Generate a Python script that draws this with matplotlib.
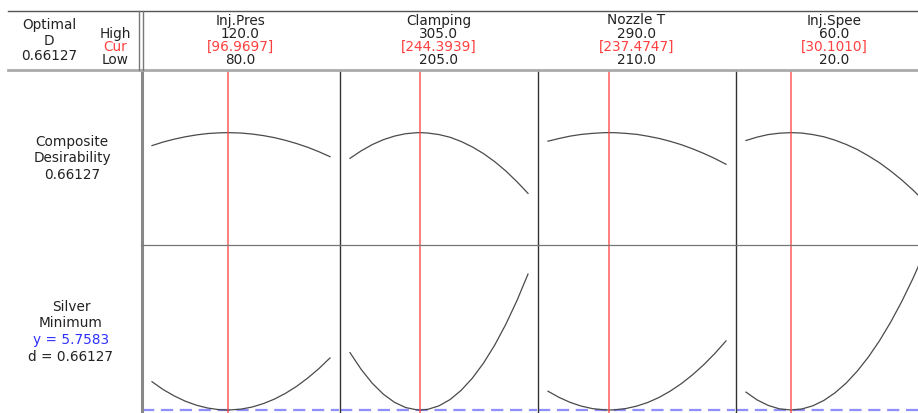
import numpy as np
import matplotlib
matplotlib.use('Agg')
import matplotlib.pyplot as plt
from matplotlib.lines import Line2D

W, H = 918, 414

factors = ['Inj.Pres', 'Clamping', 'Nozzle T', 'Inj.Spee']
high = [120.0, 305.0, 290.0, 60.0]
low = [80.0, 205.0, 210.0, 20.0]
cur = [96.9697, 244.3939, 237.4747, 30.1010]

D_opt = 0.66127
y_opt = 5.7583

# factor value, composite d, predicted Silver
pres_x = [80, 82.5, 85, 87.5, 90, 92.5, 95, 96.9697, 97.5, 100,
          102.5, 105, 107.5, 110, 112.5, 115, 117.5, 120]
pres_d = [.585, .606, .623, .637, .648, .656, .660, .66127, .661, .659,
          .653, .644, .632, .616, .597, .575, .549, .520]
pres_y = [6.041, 5.963, 5.899, 5.846, 5.806, 5.778, 5.762, 5.7583, 5.759, 5.767,
          5.788, 5.822, 5.867, 5.925, 5.995, 6.078, 6.172, 6.279]

clamp_x = [205, 211.25, 217.5, 223.75, 230, 236.25, 242.5, 244.3939, 248.75, 255,
           261.25, 267.5, 273.75, 280, 286.25, 292.5, 298.75, 305]
clamp_d = [.510, .554, .591, .620, .641, .655, .661, .66127, .659, .650,
           .634, .609, .577, .538, .491, .436, .373, .304]
clamp_y = [6.332, 6.165, 6.026, 5.916, 5.835, 5.783, 5.760, 5.7583, 5.765, 5.800,
           5.863, 5.956, 6.077, 6.227, 6.406, 6.614, 6.851, 7.117]

noz_x = [210, 215, 220, 225, 230, 235, 237.4747, 240, 245,
         250, 255, 260, 265, 270, 275, 280, 285, 290]
noz_d = [.611, .627, .641, .651, .657, .661, .66127, .661, .657,
         .651, .640, .627, .610, .590, .566, .539, .509, .475]
noz_y = [5.946, 5.884, 5.834, 5.797, 5.772, 5.760, 5.7583, 5.760, 5.773,
         5.798, 5.835, 5.885, 5.948, 6.023, 6.111, 6.211, 6.324, 6.449]

spee_x = [20, 22.5, 25, 27.5, 30.101, 32.5, 35, 37.5, 40,
          42.5, 45, 47.5, 50, 52.5, 55, 57.5, 60]
spee_d = [.615, .635, .650, .658, .66127, .659, .650, .637, .617,
          .592, .562, .525, .484, .436, .383, .324, .260]
spee_y = [5.937, 5.859, 5.804, 5.770, 5.7583, 5.768, 5.800, 5.854, 5.930,
          6.027, 6.147, 6.288, 6.451, 6.636, 6.843, 7.072, 7.323]

curves_x = [pres_x, clamp_x, noz_x, spee_x]
curves_d = [pres_d, clamp_d, noz_d, spee_d]
curves_y = [pres_y, clamp_y, noz_y, spee_y]

plt.rcParams['font.family'] = ['DejaVu Sans']
fig = plt.figure(figsize=(W / 100, H / 100), dpi=100)


def fx(p):
    return p / W


def fy(p):
    return 1 - p / H


def fline(x0, y0, x1, y1, **kw):
    fig.add_artist(Line2D([fx(x0), fx(x1)], [fy(y0), fy(y1)],
                          transform=fig.transFigure, zorder=5, **kw))


red = '#ff4040'
ink = '#222222'
fs = 9.8

# header frame
fline(8, 12, 918, 12, color='#555555', lw=1)
fline(8, 71, 918, 71, color='#aaaaaa', lw=2)
fline(139, 12, 139, 71, color='#777777', lw=1)
fline(143, 12, 143, 71, color='#777777', lw=1)
# row divider
fline(142, 246, 918, 246, color='#777777', lw=0.9)

fig.text(fx(49), fy(25), 'Optimal', ha='center', va='center', fontsize=fs, color=ink)
fig.text(fx(49), fy(41), 'D', ha='center', va='center', fontsize=fs, color=ink)
fig.text(fx(49), fy(56), '0.66127', ha='center', va='center', fontsize=fs, color=ink)
fig.text(fx(115), fy(34), 'High', ha='center', va='center', fontsize=fs, color=ink)
fig.text(fx(115), fy(47), 'Cur', ha='center', va='center', fontsize=fs, color=red)
fig.text(fx(115), fy(60), 'Low', ha='center', va='center', fontsize=fs, color=ink)

# left row labels
for yy, s in zip([142, 158, 175], ['Composite', 'Desirability', '0.66127']):
    fig.text(fx(72), fy(yy), s, ha='center', va='center', fontsize=fs, color=ink)
for yy, s, c in zip([307, 323, 340, 357],
                    ['Silver', 'Minimum', 'y = 5.7583', 'd = 0.66127'],
                    [ink, ink, '#3030ff', ink]):
    fig.text(fx(71), fy(yy), s, ha='center', va='center', fontsize=fs, color=c)

lefts = [142, 340, 538, 736]
pw = 197

for i in range(4):
    L = lefts[i]
    span = high[i] - low[i]
    xl = (low[i] - 10 / 178 * span, high[i] + 9 / 178 * span)

    cx = L + pw / 2
    fig.text(fx(cx), fy(20.5), factors[i], ha='center', va='center', fontsize=fs, color=ink)
    fig.text(fx(cx), fy(33.5), '%.1f' % high[i], ha='center', va='center', fontsize=fs, color=ink)
    fig.text(fx(cx), fy(46.5), '[%.4f]' % cur[i], ha='center', va='center', fontsize=fs, color=red)
    fig.text(fx(cx), fy(60), '%.1f' % low[i], ha='center', va='center', fontsize=fs, color=ink)

    at = fig.add_axes([fx(L), fy(246), pw / W, 175 / H])
    ab = fig.add_axes([fx(L), fy(416), pw / W, 170 / H])

    at.plot(curves_x[i], curves_d[i], color='#4a4a4a', lw=0.9)
    at.axvline(cur[i], color=red, lw=1.1, alpha=0.85)
    at.set_xlim(xl)
    at.set_ylim(0, 1.03)

    ab.plot(curves_x[i], curves_y[i], color='#4a4a4a', lw=0.9)
    ab.axvline(cur[i], color=red, lw=1.1, alpha=0.85)
    ab.axhline(y_opt, color='#8f8fff', lw=1.6, ls=(0, (5.5, 3)), zorder=1)
    ab.set_xlim(xl)
    ab.set_ylim(y_opt - 0.05, y_opt + 1.65)

    for a in (at, ab):
        a.set_xticks([])
        a.set_yticks([])
        for s in a.spines.values():
            s.set_visible(False)
        a.spines['left'].set_visible(True)
        if i == 0:
            a.spines['left'].set_color('#888888')
            a.spines['left'].set_linewidth(2.2)
        else:
            a.spines['left'].set_color('#333333')
            a.spines['left'].set_linewidth(1)

fig.savefig('out.png', dpi=100)
